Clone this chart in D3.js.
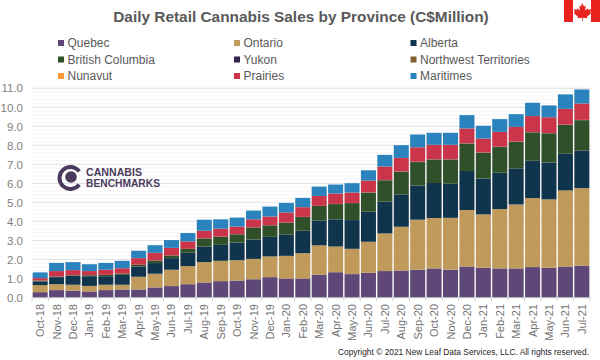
<!DOCTYPE html>
<html><head><meta charset="utf-8">
<script src="https://cdn.jsdelivr.net/npm/d3@7/dist/d3.min.js"></script>
<style>html,body{margin:0;padding:0;background:#fff}svg{display:block}text{font-family:"Liberation Sans",Arial,sans-serif}</style>
</head><body><svg id="c" width="600" height="360"></svg>
<script>
const months=["Oct-18","Nov-18","Dec-18","Jan-19","Feb-19","Mar-19","Apr-19","May-19","Jun-19","Jul-19","Aug-19","Sep-19","Oct-19","Nov-19","Dec-19","Jan-20","Feb-20","Mar-20","Apr-20","May-20","Jun-20","Jul-20","Aug-20","Sep-20","Oct-20","Nov-20","Dec-20","Jan-21","Feb-21","Mar-21","Apr-21","May-21","Jun-21","Jul-21"];
const quebec=[.28,.39,.35,.32,.39,.42,.42,.53,.60,.70,.79,.86,.89,.96,1.07,1.0,1.0,1.19,1.33,1.23,1.3,1.39,1.42,1.46,1.53,1.46,1.63,1.56,1.53,1.53,1.6,1.56,1.63,1.67];
const ontario=[.37,.31,.32,.29,.28,.25,.67,.72,.86,.95,1.07,1.07,1.07,1.07,1.09,1.19,1.33,1.55,1.35,1.33,1.63,1.98,2.30,2.63,2.65,2.73,2.97,2.81,3.12,3.36,3.63,3.60,4.00,4.08];
const alberta=[.19,.37,.47,.51,.45,.52,.54,.56,.61,.70,.82,.84,.93,1.02,1.03,1.11,1.18,1.30,1.43,1.51,1.58,1.67,1.70,1.80,1.84,1.79,2.05,1.88,1.91,1.90,1.96,1.93,1.93,1.97];
const britishColumbia=[.05,.03,.03,.05,.07,.07,.09,.14,.14,.21,.42,.42,.43,.63,.60,.63,.72,.77,.80,.89,1.0,1.12,1.19,1.23,1.23,1.27,1.44,1.36,1.35,1.39,1.49,1.54,1.51,1.6];
const yukon=[0,0,0,0,0,0,0,0,0,0,.01,.01,.01,.01,.01,.01,.01,.01,.01,.01,.01,.01,.01,.01,.01,.01,.01,.01,.01,.01,.01,.01,.01,.01];
const northwestTerritories=[0,0,0,0,0,0,0,0,0,0,0,0,0,0,0,0,0,0,0,0,.01,.01,.01,.01,.01,.01,.01,.01,.01,.01,.01,.01,.01,.01];
const nunavut=[0,0,0,0,0,0,0,0,0,0,0,0,0,0,0,0,0,0,0,0,0,0,0,0,0,0,0,0,0,0,0,0,0,0];
const prairies=[.13,.29,.27,.22,.27,.28,.35,.40,.40,.39,.40,.42,.40,.42,.46,.53,.51,.52,.55,.55,.62,.71,.71,.76,.76,.76,.78,.73,.78,.77,.84,.83,.83,.86];
const maritimes=[.30,.43,.42,.36,.36,.39,.39,.40,.41,.44,.58,.49,.47,.46,.52,.50,.49,.49,.47,.49,.54,.61,.67,.67,.63,.63,.70,.67,.67,.67,.70,.62,.76,.74];
const seriesNames=["Quebec","Ontario","Alberta","British Columbia","Yukon","Northwest Territories","Nunavut","Prairies","Maritimes"];
const seriesValues=[quebec,ontario,alberta,britishColumbia,yukon,northwestTerritories,nunavut,prairies,maritimes];
const seriesColors=["#5f4778","#bf9a5b","#10344c","#30502a","#32244a","#806030","#f79a3a","#cb3549","#2a83bc"];
const yTicks=[0,1,2,3,4,5,6,7,8,9,10,11];
const minorTicks=d3.range(0,11.01,0.2);
const titleText="Daily Retail Cannabis Sales by Province (C$Million)";
const copyrightText="Copyright \u00A9 2021 New Leaf Data Services, LLC. All rights reserved.";

const svg=d3.select("#c");
const x=d3.scaleBand().domain(months).range([32,590]).paddingInner(0.085).paddingOuter(0.04);
const y=d3.scaleLinear().domain([0,11]).range([297.5,88.3]);

svg.append("g").selectAll("line").data(minorTicks).join("line")
 .attr("x1",32).attr("x2",591).attr("y1",d=>y(d)).attr("y2",d=>y(d)).attr("stroke","#f5f5f5").attr("stroke-width",1);
svg.append("g").selectAll("line").data(yTicks).join("line")
 .attr("x1",32).attr("x2",591).attr("y1",d=>y(d)).attr("y2",d=>y(d)).attr("stroke","#e3e3e3").attr("stroke-width",1);

const rows=months.map((m,i)=>{const r={m};seriesNames.forEach((n,k)=>r[n]=seriesValues[k][i]);return r;});
const stacked=d3.stack().keys(seriesNames)(rows);
svg.append("g").selectAll("g").data(stacked).join("g").attr("fill",(d,i)=>seriesColors[i])
 .selectAll("rect").data(d=>d).join("rect")
 .attr("x",d=>x(d.data.m)).attr("width",x.bandwidth())
 .attr("y",d=>y(d[1])).attr("height",d=>Math.max(0,y(d[0])-y(d[1])));

const yAxis=d3.axisLeft(y).tickValues(yTicks).tickFormat(d3.format(".1f")).tickSize(0).tickPadding(8);
const ya=svg.append("g").attr("transform","translate(31,0)").call(yAxis);
ya.select(".domain").remove();
ya.selectAll("text").attr("font-size",11.5).attr("fill","#7f7f7f").attr("font-family","Liberation Sans");

const xAxis=d3.axisBottom(x).tickSize(0).tickPadding(0);
const xa=svg.append("g").attr("transform","translate(0,297.5)").call(xAxis);
xa.select(".domain").attr("stroke","#d9d9d9");
xa.selectAll("text").attr("font-size",11).attr("fill","#737373").attr("text-anchor","end").attr("dy",0)
 .attr("transform","translate(4,6.5) rotate(-90)");
xa.append("g").selectAll("line").data(d3.range(35)).join("line")
 .attr("x1",d=>32+d*(558/34)).attr("x2",d=>32+d*(558/34)).attr("y1",0).attr("y2",4).attr("stroke","#d9d9d9");

svg.append("text").attr("x",301).attr("y",22).attr("text-anchor","middle").attr("font-size",15.4).attr("font-weight","bold").attr("fill","#595959").text(titleText);

const legX=d3.scaleOrdinal().domain([0,1,2]).range([58,234,410.5]);
const legY=[43,59.5,76];
const leg=svg.append("g").selectAll("g").data(seriesNames).join("g")
 .attr("transform",(d,i)=>`translate(${legX(i%3)},${legY[Math.floor(i/3)]})`);
leg.append("rect").attr("x",0).attr("y",-3).attr("width",6).attr("height",6).attr("fill",(d,i)=>seriesColors[i]);
leg.append("text").attr("x",9.5).attr("y",4.3).attr("font-size",12).attr("fill","#595959").text(d=>d);

// Canada flag
const flag=svg.append("g").attr("transform","translate(563,0)");
flag.append("rect").attr("width",37).attr("height",22).attr("fill","#fff");
flag.append("rect").attr("x",1).attr("width",9).attr("height",22).attr("fill","#e8231e");
flag.append("rect").attr("x",28).attr("width",9).attr("height",22).attr("fill","#e8231e");
flag.append("path").attr("fill","#e8231e").attr("d","M19 3l2 3.6 1.8-.9-.8 5 2.5-2.4.6 1.5 3-.5-.9 3.2 1.2.6-4.4 3.6.5 1.6-4.6-.6v3h-.8v-3l-4.6.6.5-1.6-4.4-3.6 1.2-.6-.9-3.2 3 .5.6-1.5 2.5 2.4-.8-5 1.8.9z");

// Cannabis Benchmarks logo
const logo=svg.append("g").attr("transform","translate(70.5,178)");
logo.append("path").attr("fill","#4b3a5e").attr("d",d3.arc().innerRadius(9).outerRadius(13).startAngle(Math.PI/2+0.65).endAngle(Math.PI/2+2*Math.PI-0.65)());
logo.append("circle").attr("cx",0.5).attr("cy",-1).attr("r",5.8).attr("fill","#4b3a5e");
const lt=svg.append("g").attr("fill","#4b3a5e").attr("font-weight","bold").attr("font-size",10.5);
lt.append("text").attr("x",86).attr("y",176).attr("textLength",56).attr("lengthAdjust","spacingAndGlyphs").text("CANNABIS");
lt.append("text").attr("x",86).attr("y",187).attr("textLength",74).attr("lengthAdjust","spacingAndGlyphs").text("BENCHMARKS");

svg.append("text").attr("x",589).attr("y",355).attr("text-anchor","end").attr("font-size",8.4).attr("fill","#262626").text(copyrightText);
</script></body></html>
